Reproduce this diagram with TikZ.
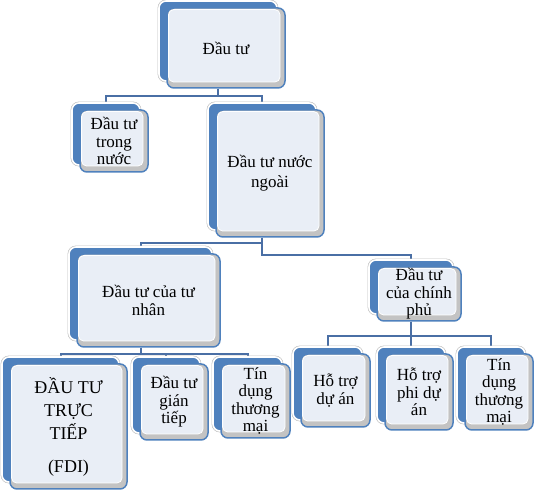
\documentclass[tikz,border=0pt]{standalone}
\usepackage{fontspec}
\setmainfont{Liberation Serif}
\usetikzlibrary{backgrounds}

\definecolor{cardblue}{HTML}{4F81BD}
\definecolor{linkblue}{HTML}{4A6FA5}
\definecolor{facecol}{HTML}{E9EEF6}
\definecolor{shadegray}{HTML}{C3C3C3}
\definecolor{rimgray}{HTML}{BDBDBD}

\tikzset{
  plaque/.style 2 args={
    rectangle, rounded corners=7pt, minimum width=#1, minimum height=#2,
    inner sep=1pt, align=center, text=black,
    font=\fontsize{17}{17.5}\selectfont,
    preaction={draw=rimgray, line width=2.8pt, transform canvas={shift={(-8pt,7pt)}}},
    preaction={fill=cardblue, draw=white, line width=1.6pt, transform canvas={shift={(-8pt,7pt)}}},
    fill=shadegray, draw=cardblue, line width=1.5pt,
    path picture={
      \draw[fill=facecol, draw=white, line width=0.8pt, rounded corners=5pt]
        ([shift={(1.6pt,-1.6pt)}]path picture bounding box.north west) rectangle
        ([shift={(-5pt,6pt)}]path picture bounding box.south east);
    }
  },
  link/.style={draw=linkblue, line width=2pt}
}

\begin{document}
\begin{tikzpicture}[x=1pt, y=1pt]
\useasboundingbox (0,0) rectangle (536,490);

% top levels
\node[plaque={118pt}{80pt}] (dt) at (226,442) {Đầu tư};
\node[plaque={68pt}{62pt}] (dttn) at (114,349) {Đầu tư\\trong\\nước};
\node[plaque={108pt}{127pt}, font=\fontsize{17}{20}\selectfont] (dtnn) at (270,316.5) {Đầu tư nước\\ngoài};
\node[plaque={143pt}{93pt}] (dttnh) at (148.5,189.5) {Đầu tư của tư\\nhân};
\node[plaque={84pt}{54pt}] (dtcp) at (419,196) {Đầu tư\\của chính\\phủ};

% bottom row
\node[plaque={117pt}{125pt}, font=\fontsize{18}{23}\selectfont] (fdi) at (68.5,63.5) {ĐẦU TƯ\\TRỰC\\TIẾP\\[10pt](FDI)};
\node[plaque={68pt}{76pt}] (gt) at (174,88) {Đầu tư\\gián\\tiếp};
\node[plaque={69pt}{74pt}] (tdtm1) at (255.5,89) {Tín\\dụng\\thương\\mại};
\node[plaque={69pt}{73pt}] (htda) at (335.5,99.5) {Hỗ trợ\\dự án};
\node[plaque={68pt}{76pt}] (htpda) at (419,98) {Hỗ trợ\\phi dự\\án};
\node[plaque={68pt}{76pt}] (tdtm2) at (499,98) {Tín\\dụng\\thương\\mại};

% connectors
\begin{scope}[on background layer]
\foreach \p/\c/\drop in {dt/dttn/7, dt/dtnn/7, dtnn/dttnh/5, dtnn/dtcp/17,
    dttnh/fdi/6, dttnh/gt/6, dttnh/tdtm1/6, dtcp/htda/14, dtcp/htpda/14, dtcp/tdtm2/14}
  \draw[link] ([xshift=-8pt]\p.south) -- ++(0,-\drop) -| ([shift={(-8pt,7pt)}]\c.north);
\end{scope}
\end{tikzpicture}
\end{document}
